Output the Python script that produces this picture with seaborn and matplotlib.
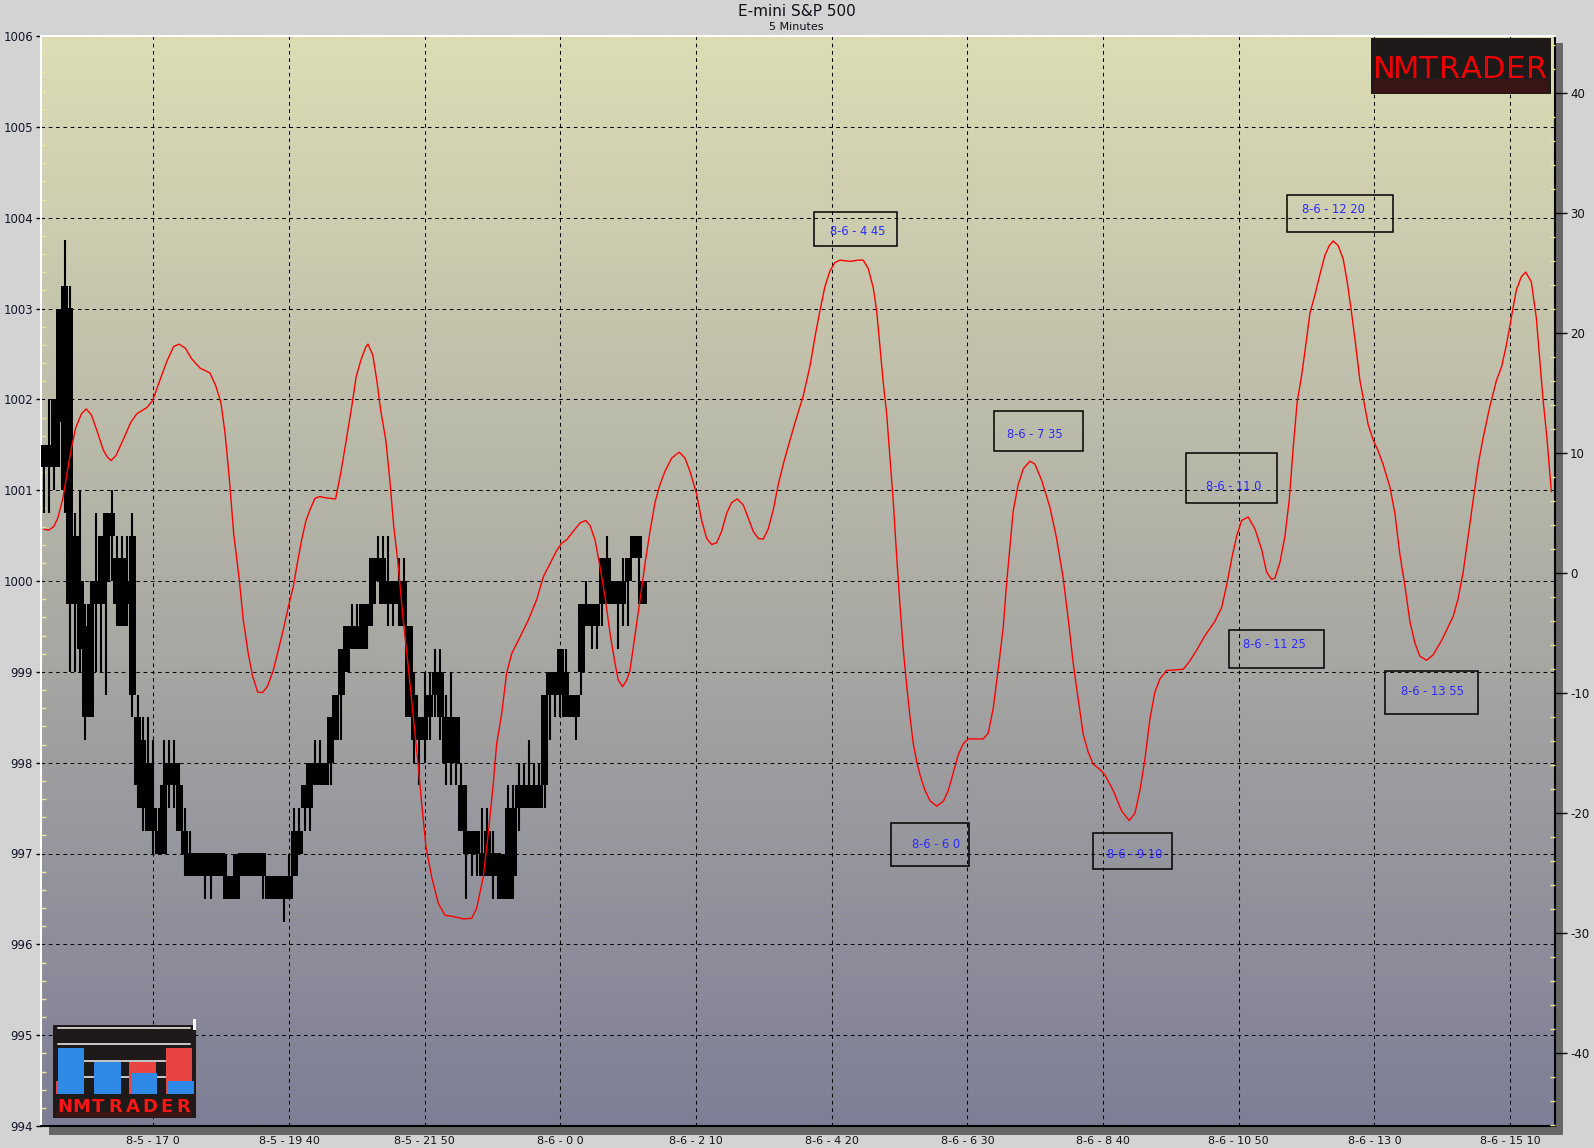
import numpy as np
import pandas as pd
import matplotlib
matplotlib.use("Agg")
import matplotlib.pyplot as plt
import seaborn as sns
from matplotlib.patches import Rectangle
from matplotlib.lines import Line2D
from matplotlib.ticker import MultipleLocator, FixedLocator
from matplotlib import font_manager

# ---------------- DATA ----------------
open_ = [1001.5, 1001.25, 1001.25, 1001.75, 1001.0, 1003.0, 999.75, 1000.0, 999.5, 998.5,
         999.75, 999.75, 1000.0, 1000.75, 1000.25, 1000.25, 999.75, 1000.5, 998.5, 998.25,
         997.25, 997.5, 997.25, 997.0, 997.75, 998.0, 997.75, 997.25, 997.0, 996.75,
         997.0, 996.75, 997.0, 996.75, 997.0, 996.75, 996.5, 996.5, 997.0, 996.75,
         997.0, 996.75, 997.0, 996.75, 996.5, 996.75, 996.5, 996.75, 996.75, 997.25,
         997.5, 997.5, 998.0, 997.75, 998.0, 998.0, 998.25, 998.75, 999.0, 999.25,
         999.5, 999.25, 999.75, 999.75, 1000.25, 999.75, 1000.0, 999.75, 1000.0, 1000.0,
         999.5, 998.75, 998.25, 998.5, 998.5, 998.75, 999.0, 998.5, 998.0, 998.5,
         997.75, 997.25, 997.0, 997.25, 997.0, 996.75, 997.0, 996.75, 997.0, 996.5,
         997.5, 997.5, 997.75, 997.5, 997.75, 997.5, 997.75, 998.75, 999.0, 998.75,
         999.0, 998.5, 998.75, 999.0, 999.75, 999.5, 999.75, 999.75, 1000.25, 999.75,
         1000.0, 999.75, 1000.0, 1000.25, 1000.5, 1000.0]
high = [1001.5, 1002.0, 1002.0, 1003.0, 1003.75, 1003.25, 1000.75, 1001.0, 999.75, 1000.0,
        1000.75, 1000.5, 1000.75, 1001.0, 1000.5, 1000.5, 1000.5, 1000.75, 998.75, 998.5,
        998.5, 998.25, 997.5, 998.25, 998.25, 998.25, 998.0, 997.5, 997.25, 997.0,
        997.0, 997.0, 997.0, 997.0, 997.0, 997.0, 996.75, 997.0, 997.0, 997.0,
        997.0, 997.0, 997.0, 996.75, 996.75, 996.75, 996.75, 997.0, 997.5, 997.5,
        997.75, 998.0, 998.25, 998.25, 998.0, 998.5, 998.75, 999.25, 999.5, 999.75,
        999.75, 999.75, 999.75, 1000.25, 1000.5, 1000.5, 1000.5, 1000.0, 1000.25, 1000.25,
        999.5, 999.0, 998.5, 999.0, 999.0, 999.25, 999.25, 998.75, 999.0, 998.5,
        998.0, 997.75, 997.25, 997.25, 997.5, 997.5, 997.25, 997.0, 997.0, 997.75,
        997.75, 998.0, 998.0, 998.25, 998.0, 998.0, 998.75, 999.0, 999.0, 999.25,
        999.25, 998.75, 998.75, 999.75, 1000.0, 999.75, 999.75, 1000.25, 1000.5, 1000.0,
        1000.0, 1000.25, 1000.25, 1000.5, 1000.5, 1000.0]
low = [1000.75, 1000.75, 1001.0, 1001.25, 1000.75, 999.0, 999.0, 999.0, 998.25, 998.5,
       999.0, 999.0, 998.75, 1000.0, 999.5, 999.5, 999.5, 998.5, 997.5, 997.25,
       997.25, 997.0, 997.0, 997.0, 997.5, 997.5, 997.25, 996.75, 996.75, 996.75,
       996.75, 996.5, 996.5, 996.75, 996.75, 996.5, 996.5, 996.5, 996.75, 996.75,
       996.75, 996.75, 996.5, 996.5, 996.5, 996.5, 996.25, 996.5, 996.75, 997.0,
       997.25, 997.25, 997.75, 997.75, 997.75, 997.75, 998.25, 998.25, 999.0, 999.25,
       999.25, 999.25, 999.25, 999.5, 1000.0, 999.75, 999.5, 999.5, 999.5, 999.5,
       998.5, 998.0, 997.75, 998.0, 998.25, 998.5, 998.25, 997.75, 997.75, 997.75,
       997.25, 996.5, 996.75, 996.75, 996.75, 996.75, 996.5, 996.5, 996.5, 996.5,
       996.5, 997.25, 997.5, 997.5, 997.5, 997.5, 997.5, 998.25, 998.5, 998.5,
       998.5, 998.5, 998.25, 998.75, 999.5, 999.25, 999.25, 999.5, 999.75, 999.75,
       999.25, 999.5, 999.5, 1000.25, 999.75, 999.75]
close = [1001.25, 1001.5, 1002.0, 1003.0, 1003.25, 999.75, 1000.5, 999.25, 998.5, 999.75,
         1000.0, 1000.5, 1000.75, 1000.5, 999.75, 999.5, 1000.0, 998.75, 997.75, 997.5,
         998.0, 997.25, 997.0, 997.75, 998.0, 997.75, 997.25, 997.0, 996.75, 997.0,
         996.75, 997.0, 996.75, 997.0, 996.75, 996.5, 996.75, 997.0, 996.75, 997.0,
         996.75, 997.0, 996.75, 996.5, 996.75, 996.5, 996.75, 996.5, 997.25, 997.0,
         997.75, 998.0, 997.75, 998.0, 997.75, 998.5, 998.75, 999.25, 999.5, 999.5,
         999.25, 999.75, 999.5, 1000.25, 1000.0, 1000.25, 999.75, 1000.0, 999.75, 999.5,
         998.5, 998.25, 998.5, 998.25, 998.75, 999.0, 998.5, 998.0, 998.5, 998.0,
         997.25, 997.0, 997.25, 997.0, 996.75, 997.25, 996.75, 997.0, 996.5, 997.5,
         996.75, 997.75, 997.5, 997.75, 997.5, 997.75, 998.75, 999.0, 998.75, 999.25,
         998.5, 998.75, 998.5, 999.75, 999.5, 999.75, 999.5, 1000.25, 999.75, 1000.0,
         999.75, 1000.0, 1000.25, 1000.5, 1000.25, 999.75]

osc_bar = [0.06, 0.96, 1.94, 2.70, 3.68, 4.45, 5.35, 6.11, 7.24, 8.14, 9.14, 10.27, 11.40, 12.17,
           12.91, 13.83, 15.19, 16.71, 17.84, 19.74, 20.87, 22.02, 23.53, 24.89, 25.94, 27.17,
           28.30, 29.97, 31.86, 32.99, 33.97, 34.74, 35.49, 36.41, 37.48, 38.24, 39.20, 40.05,
           41.00, 41.89, 42.84, 43.99, 44.95, 45.91, 46.87, 47.83, 48.48, 49.43, 50.26, 51.03,
           51.98, 52.94, 53.90, 54.86, 55.93, 56.85, 57.98, 59.13, 59.88, 60.80, 61.76, 62.14,
           63.06, 63.82, 64.57, 65.55, 66.32, 67.08, 67.83, 68.90, 69.86, 70.82, 71.78, 72.43,
           73.25, 74.34, 75.61, 76.89, 78.48, 80.40, 82.01, 82.97, 84.23, 85.19, 86.15, 86.80,
           87.76, 88.71, 89.67, 90.94, 92.85, 94.46, 95.73, 97.01, 98.29, 99.25, 100.21, 101.48,
           102.76, 103.85, 104.68, 105.64, 106.60, 107.56, 108.52, 109.48, 110.10, 110.94,
           111.71, 112.34, 113.30, 114.26, 115.22, 116.18, 117.14, 118.09, 119.05, 120.33,
           121.79, 122.88, 123.84, 125.12, 126.08, 127.04, 128.00, 128.95, 129.91, 130.87,
           131.83, 132.90, 134.05, 135.01, 135.97, 136.93, 137.88, 138.84, 139.80, 140.76,
           141.71, 143.00, 144.28, 145.55, 146.83, 147.79, 148.75, 149.70, 150.66, 151.62,
           152.58, 154.49, 156.08, 157.04, 158.00, 158.96, 159.61, 160.24, 160.88, 161.53,
           162.16, 162.81, 163.45, 164.08, 164.72, 165.37, 166.00, 166.64, 167.29, 167.92,
           168.88, 169.84, 171.12, 172.39, 173.34, 174.30, 175.26, 176.22, 177.18, 178.79,
           180.05, 181.01, 181.97, 182.93, 183.87, 184.52, 185.15, 185.78, 186.74, 187.70,
           188.99, 189.94, 191.23, 192.82, 194.10, 195.36, 196.32, 197.28, 198.24, 199.19,
           200.15, 201.11, 202.40, 203.35, 204.94, 206.55, 208.01, 209.10, 210.06, 211.02,
           211.97, 212.93, 213.89, 215.17, 216.77, 218.36, 219.64, 220.93, 222.52, 224.43,
           225.72, 226.68, 227.64, 228.59, 229.55, 230.81, 232.10, 233.38, 234.34, 235.30,
           235.93, 236.89, 237.85, 238.67, 239.44, 240.20, 241.05, 241.87, 242.64, 243.60,
           244.55, 245.51, 246.33, 247.10, 248.06, 249.01, 249.78, 250.62, 251.39, 252.21,
           252.98, 253.80, 254.76, 255.72, 256.67, 257.96, 258.92, 259.87, 260.83, 261.79,
           262.75, 263.70, 264.99, 266.25, 267.86, 270.08, 271.04, 272.00, 272.96, 273.92,
           274.87, 275.83, 277.11, 278.40, 279.36, 280.32, 281.22, 282.18, 283.14, 283.97,
           285.06, 286.02, 286.65, 287.29, 288.05, 288.90]
osc_val = [3.67, 3.6, 3.9, 4.6, 6.25, 8.3, 10.5, 12.1, 13.3, 13.7, 13.2, 11.8, 10.3, 9.7,
           9.4, 9.8, 11.1, 12.6, 13.3, 13.8, 14.4, 15.8, 17.6, 18.9, 19.1, 18.75,
           17.9, 17.1, 16.7, 15.6, 14.2, 11.7, 8.3, 3.3, -0.55, -3.9, -6.7, -8.6,
           -9.9, -9.95, -9.45, -8.1, -6.4, -4.7, -2.8, -1.1, 0.55, 2.8, 4.4, 5.3,
           6.25, 6.4, 6.3, 6.25, 6.2, 8.2, 11.1, 14.2, 16.4, 17.8, 18.9, 19.1,
           18.2, 16.1, 13.6, 11.1, 7.8, 3.9, 1.1, -3.9, -7.8, -11.95, -16.1, -19.2,
           -22.8, -25.3, -27.5, -28.5, -28.6, -28.8, -28.75, -27.9, -25.3, -21.7, -17.5, -14.2,
           -11.7, -8.3, -6.7, -5.6, -3.9, -2.2, -0.3, 0.8, 1.9, 2.5, 2.8, 3.5,
           4.2, 4.4, 4.0, 2.8, 0.55, -1.95, -5.0, -7.5, -8.9, -9.45,
           -8.9, -8.1, -5.2, -2.25, 0.8, 3.5, 5.9, 7.4, 8.5, 9.6,
           10.1, 9.6, 8.5, 6.6, 4.4, 2.9, 2.4, 2.55, 3.5, 5.0,
           5.9, 6.2, 5.7, 4.6, 3.5, 2.9, 2.85, 3.7, 5.3, 7.4,
           9.1, 11.1, 13.0, 14.8, 17.25, 19.7, 21.9, 23.9, 25.2, 25.9,
           26.1, 26.0, 26.1, 26.1, 25.4, 23.8, 21.9, 18.9, 15.9, 13.3,
           9.6, 5.9, 1.4, -2.65, -6.4, -9.35, -11.95, -14.2, -15.7, -16.8,
           -18.1, -18.95, -19.4, -19.0, -18.1, -16.6, -15.1, -14.2, -13.8, -13.8,
           -13.8, -13.3, -11.2, -7.9, -4.5, -0.8, 2.2, 5.2, 7.4, 8.7,
           9.35, 9.1, 7.75, 5.5, 2.9, -0.4, -3.8, -7.5, -10.5, -13.4,
           -14.9, -15.9, -16.35, -16.8, -18.1, -19.8, -20.6, -20.0, -18.1, -15.5,
           -12.15, -9.9, -8.8, -8.1, -8.05, -8.0, -7.3, -6.4, -5.2, -4.0,
           -2.85, -1.0, 1.2, 3.1, 4.4, 4.7, 3.7, 2.0, 0.1, -0.5,
           -0.4, 0.9, 3.1, 6.1, 10.5, 14.3, 16.5, 19.1, 21.7, 23.2,
           24.9, 26.5, 27.3, 27.7, 27.3, 26.2, 24.3, 21.7, 19.1, 16.1,
           14.3, 12.4, 11.1, 10.2, 9.06, 7.2, 5.0, 1.6, -1.0, -4.0,
           -5.8, -6.9, -7.25, -6.8, -5.6, -3.6, -2.1, 0.1, 3.1, 6.1,
           9.06, 11.3, 13.9, 16.1, 17.2, 19.1, 21.3, 23.6, 24.7, 25.1,
           24.3, 21.3, 18.0, 14.6, 11.3, 6.8]

xtick_bars = [21, 47, 73, 99, 125, 151, 177, 203, 229, 255, 281]
xtick_labels = ["8-5 - 17 0", "8-5 - 19 40", "8-5 - 21 50", "8-6 - 0 0", "8-6 - 2 10",
                "8-6 - 4 20", "8-6 - 6 30", "8-6 - 8 40", "8-6 - 10 50", "8-6 - 13 0",
                "8-6 - 15 10"]
price_ticks = [994, 995, 996, 997, 998, 999, 1000, 1001, 1002, 1003, 1004, 1005, 1006]
osc_ticks = [-40, -30, -20, -10, 0, 10, 20, 30, 40]
cycle_labels = ["8-6 - 4 45", "8-6 - 6 0", "8-6 - 7 35", "8-6 - 9 10",
                "8-6 - 11 0", "8-6 - 11 25", "8-6 - 12 20", "8-6 - 13 55"]
title = "E-mini S&P 500"
subtitle = "5 Minutes"
logo_text = "NMTRADER"

# ---------------- LAYOUT ----------------
W, H, DPI = 1594, 1148, 100
sns.set_style("white")
plt.rcParams["font.family"] = ["DejaVu Sans"]

fig = plt.figure(figsize=(W / DPI, H / DPI), dpi=DPI, facecolor="#d3d3d3")


def fx(x):
    return x / W


def fy(y):
    return 1 - y / H


AX_L, AX_R, AX_T, AX_B = 41, 1555, 36, 1126
ax = fig.add_axes([fx(AX_L), fy(AX_B), (AX_R - AX_L) / W, (AX_B - AX_T) / H])


def axf(px, py):
    return ((px - AX_L) / (AX_R - AX_L), (AX_B - py) / (AX_B - AX_T))


# shadows
fig.add_artist(Rectangle((fx(49), fy(1135)), (1563 - 49) / W, 9 / H,
                         transform=fig.transFigure, color="#666666", zorder=-1, lw=0))
fig.add_artist(Rectangle((fx(1555), fy(1135)), 8 / W, (1135 - 43) / H,
                         transform=fig.transFigure, color="#666666", zorder=-1, lw=0))

# gradient background
top_c = np.array([221, 221, 181]) / 255
bot_c = np.array([126, 126, 150]) / 255
t = np.linspace(0, 1, 256)[:, None]
grad = (top_c * (1 - t) + bot_c * t)[:, None, :]
ax.imshow(grad, extent=[0, 1, 0, 1], transform=ax.transAxes, aspect="auto",
          zorder=0, interpolation="bilinear")

# candles
bars = np.arange(len(open_))
o = np.array(open_)
c = np.array(close)
ax.vlines(bars, low, high, color="black", lw=1.5, zorder=3)
ax.bar(bars, np.abs(c - o), bottom=np.minimum(o, c), width=1.35, color="black",
       linewidth=0, zorder=3)

ax.set_xlim(-0.52, 289.6)
ax.set_ylim(994, 1006)
ax.set_aspect("auto")

ax.xaxis.set_major_locator(FixedLocator(xtick_bars))
ax.set_xticklabels(xtick_labels)
ax.yaxis.set_major_locator(FixedLocator(price_ticks))
ax.set_yticklabels([str(p) for p in price_ticks])
ax.yaxis.set_minor_locator(MultipleLocator(0.2))

ax.set_axisbelow(True)
ax.grid(True, which="major", color="black", linestyle=(0, (3.5, 3.5)), lw=0.75)

ax.tick_params(axis="x", which="major", direction="out", length=5.8, width=1,
               color="black", pad=1.5, labelsize=8, labelcolor="#141414")
ax.tick_params(axis="y", which="major", direction="out", length=3.6, width=1,
               color="black", pad=2.2, labelsize=8.5, labelcolor="#14142a")
ax.tick_params(axis="y", which="minor", direction="in", length=3.6, width=1,
               color="#e8e89a")
ax.tick_params(axis="x", which="minor", bottom=False)

for side, col in [("left", "white"), ("top", "white"), ("bottom", "black"), ("right", "black")]:
    ax.spines[side].set_color(col)
    ax.spines[side].set_linewidth(1.5)

# oscillator on right axis
ax2 = ax.twinx()
df = pd.DataFrame({"bar": osc_bar, "osc": osc_val})
sns.lineplot(data=df, x="bar", y="osc", ax=ax2, color="#ff0000", lw=1.0, sort=False,
             estimator=None)
ax2.set_ylim(-46.06, 44.78)
ax2.set_xlim(-0.52, 289.6)
ax2.set_ylabel("")
ax2.set_xlabel("")
ax.set_xlabel("")
ax.set_ylabel("")
ax2.yaxis.set_major_locator(FixedLocator(osc_ticks))
ax2.set_yticklabels([str(v) for v in osc_ticks])
ax2.yaxis.set_minor_locator(MultipleLocator(2))
ax2.tick_params(axis="y", which="major", direction="out", length=8.6, width=1,
                color="black", pad=2.2, labelsize=8.5, labelcolor="#101010")
ax2.tick_params(axis="y", which="minor", direction="in", length=3.6, width=1,
                color="#e8e89a")
ax2.grid(False)
for s in ax2.spines.values():
    s.set_visible(False)

# cycle annotation boxes (pixel layout)
boxes = [(814.3, 897.3, 212.3, 246.3, 830.0, 231.5),
         (891.3, 969.3, 822.6, 866.3, 911.7, 844.0),
         (994.3, 1083.3, 411.4, 451.2, 1007.0, 434.6),
         (1093.3, 1172.3, 833.4, 868.7, 1106.7, 854.4),
         (1186.3, 1277.3, 453.5, 503.0, 1205.7, 486.1),
         (1229.3, 1324.3, 630.3, 668.2, 1243.3, 644.6),
         (1287.3, 1393.3, 194.6, 232.0, 1301.7, 209.7),
         (1385.3, 1478.3, 671.3, 714.2, 1400.7, 691.4)]
for lab, (x0, x1, y0, y1, tx, ty) in zip(cycle_labels, boxes):
    a0 = axf(x0, y1)
    a1 = axf(x1, y0)
    ax2.add_patch(Rectangle(a0, a1[0] - a0[0], a1[1] - a0[1], transform=ax2.transAxes,
                            fill=False, ec="black", lw=1.1, zorder=6))
    tp = axf(tx, ty)
    ax2.text(tp[0], tp[1], lab, transform=ax2.transAxes, ha="left", va="center",
             fontsize=8.3, color="#2a2aff", zorder=7)

# titles
fig.text(fx(797), fy(16), title, ha="center", va="baseline", fontsize=11, color="#101018")
fig.text(fx(796), fy(30.5), subtitle, ha="center", va="baseline", fontsize=8, color="#101018")


def has_font(name):
    try:
        font_manager.findfont(font_manager.FontProperties(family=name),
                              fallback_to_default=False)
        return True
    except Exception:
        return False


narrow = "Liberation Sans Narrow" if has_font("Liberation Sans Narrow") else "DejaVu Sans"
top_size = 26 if narrow != "DejaVu Sans" else 22

# top-right logo
fig.add_artist(Rectangle((fx(1371), fy(94)), (1551 - 1371) / W, (94 - 38) / H,
                         transform=fig.transFigure, color="#1e1a1a", zorder=10, lw=0))
fig.add_artist(Rectangle((fx(1373), fy(93)), (1548 - 1373) / W, (93 - 79) / H,
                         transform=fig.transFigure, color="#7a0c0c", zorder=11, lw=0, alpha=0.3))
pitch = (1548 - 1373) / len(logo_text)
for k, ch in enumerate(logo_text):
    cx = 1373 + pitch * (k + 0.5)
    fig.text(fx(cx), fy(78), ch, ha="center", va="baseline", fontsize=top_size,
             family=narrow, color="#ee0000", zorder=12)

# bottom-left logo
fig.add_artist(Rectangle((fx(53.3), fy(1117.7)), (195.7 - 53.3) / W, (1117.7 - 1025) / H,
                         transform=fig.transFigure, color="#1e1a1a", zorder=10, lw=0))
for (x0, x1, yy) in [(58.3, 190, 1027.7), (58.3, 190, 1044), (84, 165.7, 1061), (84, 165.7, 1077.3)]:
    fig.add_artist(Line2D([fx(x0), fx(x1)], [fy(yy), fy(yy)], transform=fig.transFigure,
                          color="#c8c8c8", lw=1.4, zorder=11))
for (x0, x1, ytop, col) in [(56, 58.3, 1080.7, "#e84444"), (58.3, 84, 1048.3, "#2e8ae6"),
                            (94, 120.7, 1062.3, "#2e8ae6"), (129, 155.7, 1062, "#e84444"),
                            (131, 156.7, 1073, "#2e8ae6"), (166, 191.7, 1048.3, "#e84444"),
                            (166.7, 194, 1081, "#2e8ae6")]:
    fig.add_artist(Rectangle((fx(x0), fy(1094)), (x1 - x0) / W, (1094 - ytop) / H,
                             transform=fig.transFigure, color=col, zorder=12, lw=0))
fig.add_artist(Rectangle((fx(192.7), fy(1030)), 3 / W, 11 / H, transform=fig.transFigure,
                         color="white", zorder=12, lw=0))
fig.add_artist(Rectangle((fx(56), fy(1117)), (192 - 56) / W, 5 / H,
                         transform=fig.transFigure, color="#7a0c0c", zorder=12, lw=0, alpha=0.35))
pitch2 = (192 - 56) / len(logo_text)
for k, ch in enumerate(logo_text):
    cx = 56 + pitch2 * (k + 0.5)
    fig.text(fx(cx), fy(1111.5), ch, ha="center", va="baseline", fontsize=13,
             fontweight="bold", color="#ff1414", zorder=13)

fig.savefig("out.png", dpi=DPI, facecolor=fig.get_facecolor())
